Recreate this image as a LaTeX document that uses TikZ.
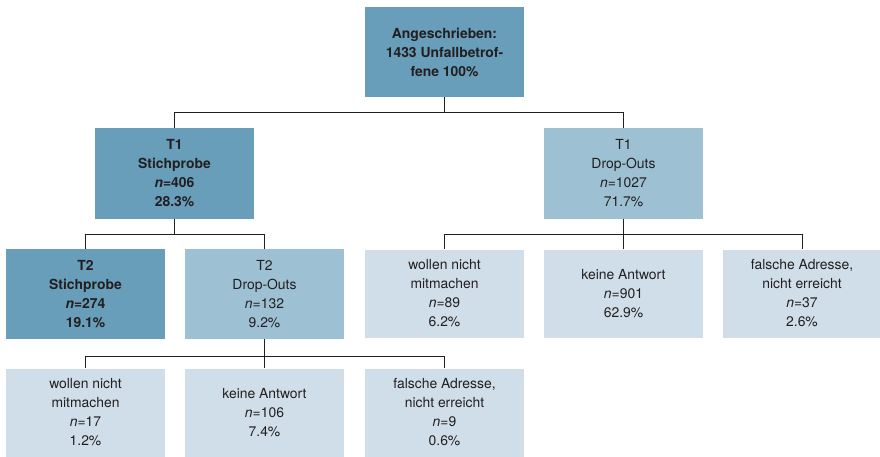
\documentclass[tikz,border=0pt]{standalone}
\usepackage{fontspec}
\setmainfont{TeX Gyre Heros}
\usepackage{xcolor}
\definecolor{boxdark}{HTML}{689EBA}
\definecolor{boxmid}{HTML}{9DC0D3}
\definecolor{boxlight}{HTML}{CFDEE8}
\definecolor{flowink}{HTML}{231F20}

\begin{document}
\begin{tikzpicture}[
  x=1pt,
  y=-1pt,
  every node/.style={font=\fontsize{13.9}{19}\selectfont, text=flowink},
  cell/.style={rectangle, inner sep=0pt, minimum width=159pt,
               minimum height=90pt, align=center},
  darkcell/.style={cell, fill=boxdark, font=\fontsize{13.9}{19}\selectfont\bfseries},
  midcell/.style={cell, fill=boxmid},
  lightcell/.style={cell, fill=boxlight, minimum height=88pt},
  branch/.style={flowink, line width=0.8pt}
]
  % ---- page frame, same size as the reference ----
  \useasboundingbox (0,0) rectangle (880,457);

  % ---- level 0 ----
  \node[darkcell] (sent) at (444.5,52) {Angeschrieben:\\1433 Unfallbetrof-\\fene 100\%};

  % ---- level 1 ----
  \node[darkcell] (tonesample) at (174.5,173.5) {T1\\Stichprobe\\\textit{n}=406\\28.3\%};
  \node[midcell]  (tonedrop)   at (623.5,173.5) {T1\\Drop-Outs\\\textit{n}=1027\\71.7\%};

  % ---- level 2 ----
  \node[darkcell]  (ttwosample) at (85.5,294)  {T2\\Stichprobe\\\textit{n}=274\\19.1\%};
  \node[midcell]   (ttwodrop)   at (264.5,294) {T2\\Drop-Outs\\\textit{n}=132\\9.2\%};
  \node[lightcell] (onerefuse)  at (444.5,293.5) {wollen nicht\\mitmachen\\\textit{n}=89\\6.2\%};
  \node[lightcell] (onesilent)  at (623.5,293.5) {keine Antwort\\\textit{n}=901\\62.9\%};
  \node[lightcell] (onewrong)   at (802,293.5)   {falsche Adresse,\\nicht erreicht\\\textit{n}=37\\2.6\%};

  % ---- level 3 ----
  \node[lightcell] (tworefuse) at (85.5,412.5)  {wollen nicht\\mitmachen\\\textit{n}=17\\1.2\%};
  \node[lightcell] (twosilent) at (264.5,412.5) {keine Antwort\\\textit{n}=106\\7.4\%};
  \node[lightcell] (twowrong)  at (444.5,412.5) {falsche Adresse,\\nicht erreicht\\\textit{n}=9\\0.6\%};

  % ---- junction points of the tree ----
  \coordinate (jsent) at (444.5,112);
  \coordinate (jone)  at (174.5,234);
  \coordinate (jdrop) at (623.5,234);
  \coordinate (jtwo)  at (264.5,356);

  % ---- connectors ----
  \draw[branch] (sent.south) -- (jsent) -| (tonesample.north);
  \draw[branch] (jsent) -| (tonedrop.north);

  \draw[branch] (tonesample.south) -- (jone) -| (ttwosample.north);
  \draw[branch] (jone) -| (ttwodrop.north);

  \draw[branch] (tonedrop.south) -- (onesilent.north);
  \draw[branch] (jdrop) -| (onerefuse.north);
  \draw[branch] (jdrop) -| (onewrong.north);

  \draw[branch] (ttwodrop.south) -- (twosilent.north);
  \draw[branch] (jtwo) -| (tworefuse.north);
  \draw[branch] (jtwo) -| (twowrong.north);
\end{tikzpicture}
\end{document}
